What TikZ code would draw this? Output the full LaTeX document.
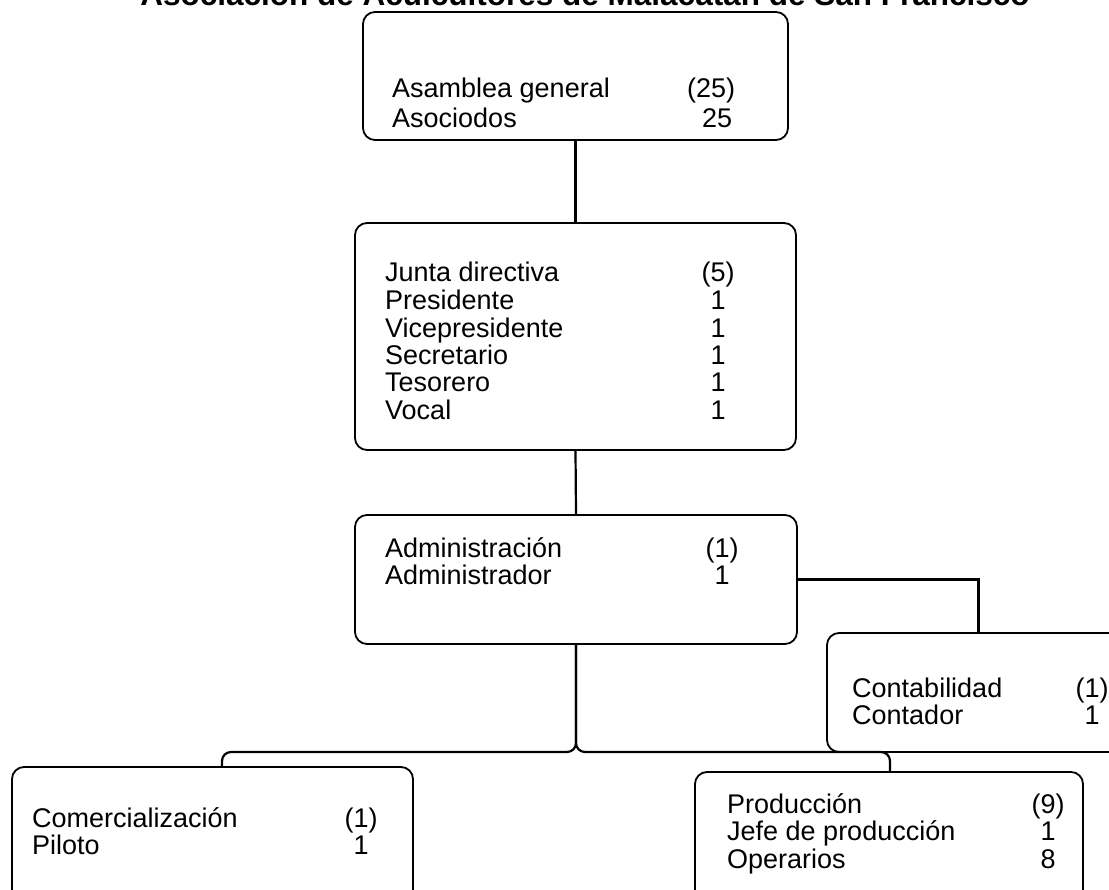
\documentclass[tikz,border=0pt]{standalone}
\usepackage{fontspec}
\setmainfont{Liberation Sans}
\newcommand{\entry}[3]{\makebox[#1pt][l]{#2}\makebox[0pt][c]{#3}}
\tikzset{
  box/.style={draw=black, line width=1.8pt, rounded corners=12pt, inner sep=0pt},
  conn/.style={draw=black, line width=2.2pt},
  txt/.style={anchor=base west, inner sep=0pt, font=\fontsize{27}{27}\selectfont}
}
\begin{document}
\begin{tikzpicture}[x=1pt,y=-1pt]
\clip (0,0) rectangle (1109,890);
\fill[white] (0,0) rectangle (1109,890);
% title (cut off at top)
\node[anchor=base, inner sep=0pt, font=\bfseries\fontsize{31.5}{32}\selectfont] (title) at (585,6) {Asociación de Acuicultores de Malacatán de San Francisco};
% boxes
\node[box, minimum width=425pt, minimum height=128pt] (asam) at (575.5,76) {};
\node[box, minimum width=441pt, minimum height=227pt] (junta) at (575.5,336.5) {};
\node[box, minimum width=442pt, minimum height=129pt] (admin) at (576,579.5) {};
\node[box, minimum width=303pt, minimum height=119pt] (conta) at (978.5,692.5) {};
\node[box, minimum width=401pt, minimum height=183pt] (comer) at (212.5,858.5) {};
\node[box, minimum width=388pt, minimum height=178pt] (prod) at (889,861) {};
% texts
\node[txt, font=\fontsize{27}{30}\selectfont] (tasam) at (392,98) {\begin{tabular}[t]{@{}l@{}}
\entry{319}{Asamblea general}{(25)}\\
\entry{319}{Asociodos}{\hspace{12pt}25}
\end{tabular}};
\node[txt] (tjunta) at (385,282) {\begin{tabular}[t]{@{}l@{}}
\entry{333}{Junta directiva}{(5)}\\
\entry{333}{Presidente}{1}\\
\entry{333}{Vicepresidente}{1}\\
\entry{333}{Secretario}{1}\\
\entry{333}{Tesorero}{1}\\
\entry{333}{Vocal}{1}
\end{tabular}};
\node[txt, font=\fontsize{27}{26}\selectfont] (tadmin) at (385,557) {\begin{tabular}[t]{@{}l@{}}
\entry{337}{Administración}{(1)}\\
\entry{337}{Administrador}{1}
\end{tabular}};
\node[txt] (tconta) at (852,697) {\begin{tabular}[t]{@{}l@{}}
\entry{240}{Contabilidad}{(1)}\\
\entry{240}{Contador}{1}
\end{tabular}};
\node[txt, font=\fontsize{27}{25}\selectfont] (tcomer) at (32,827) {\begin{tabular}[t]{@{}l@{}}
\entry{329}{Comercialización}{(1)}\\
\entry{329}{Piloto}{1}
\end{tabular}};
\node[txt, font=\fontsize{27}{26.5}\selectfont] (tprod) at (727,813) {\begin{tabular}[t]{@{}l@{}}
\entry{321}{Producción}{(9)}\\
\entry{321}{Jefe de producción}{1}\\
\entry{321}{Operarios}{8}
\end{tabular}};
% connectors
\coordinate (bl) at (222,752);
\coordinate (br) at (890,752);
\draw[conn] (asam.south) -- (junta.north);
\draw[conn] (junta.south) -- (admin.north);
\draw[conn] (admin.east) -| (conta.north);
\draw[conn, rounded corners=9pt] (admin.south) |- (bl) -- (bl |- comer.north);
\draw[conn, rounded corners=9pt] (admin.south) |- (br) -- (br |- prod.north);
\end{tikzpicture}
\end{document}
